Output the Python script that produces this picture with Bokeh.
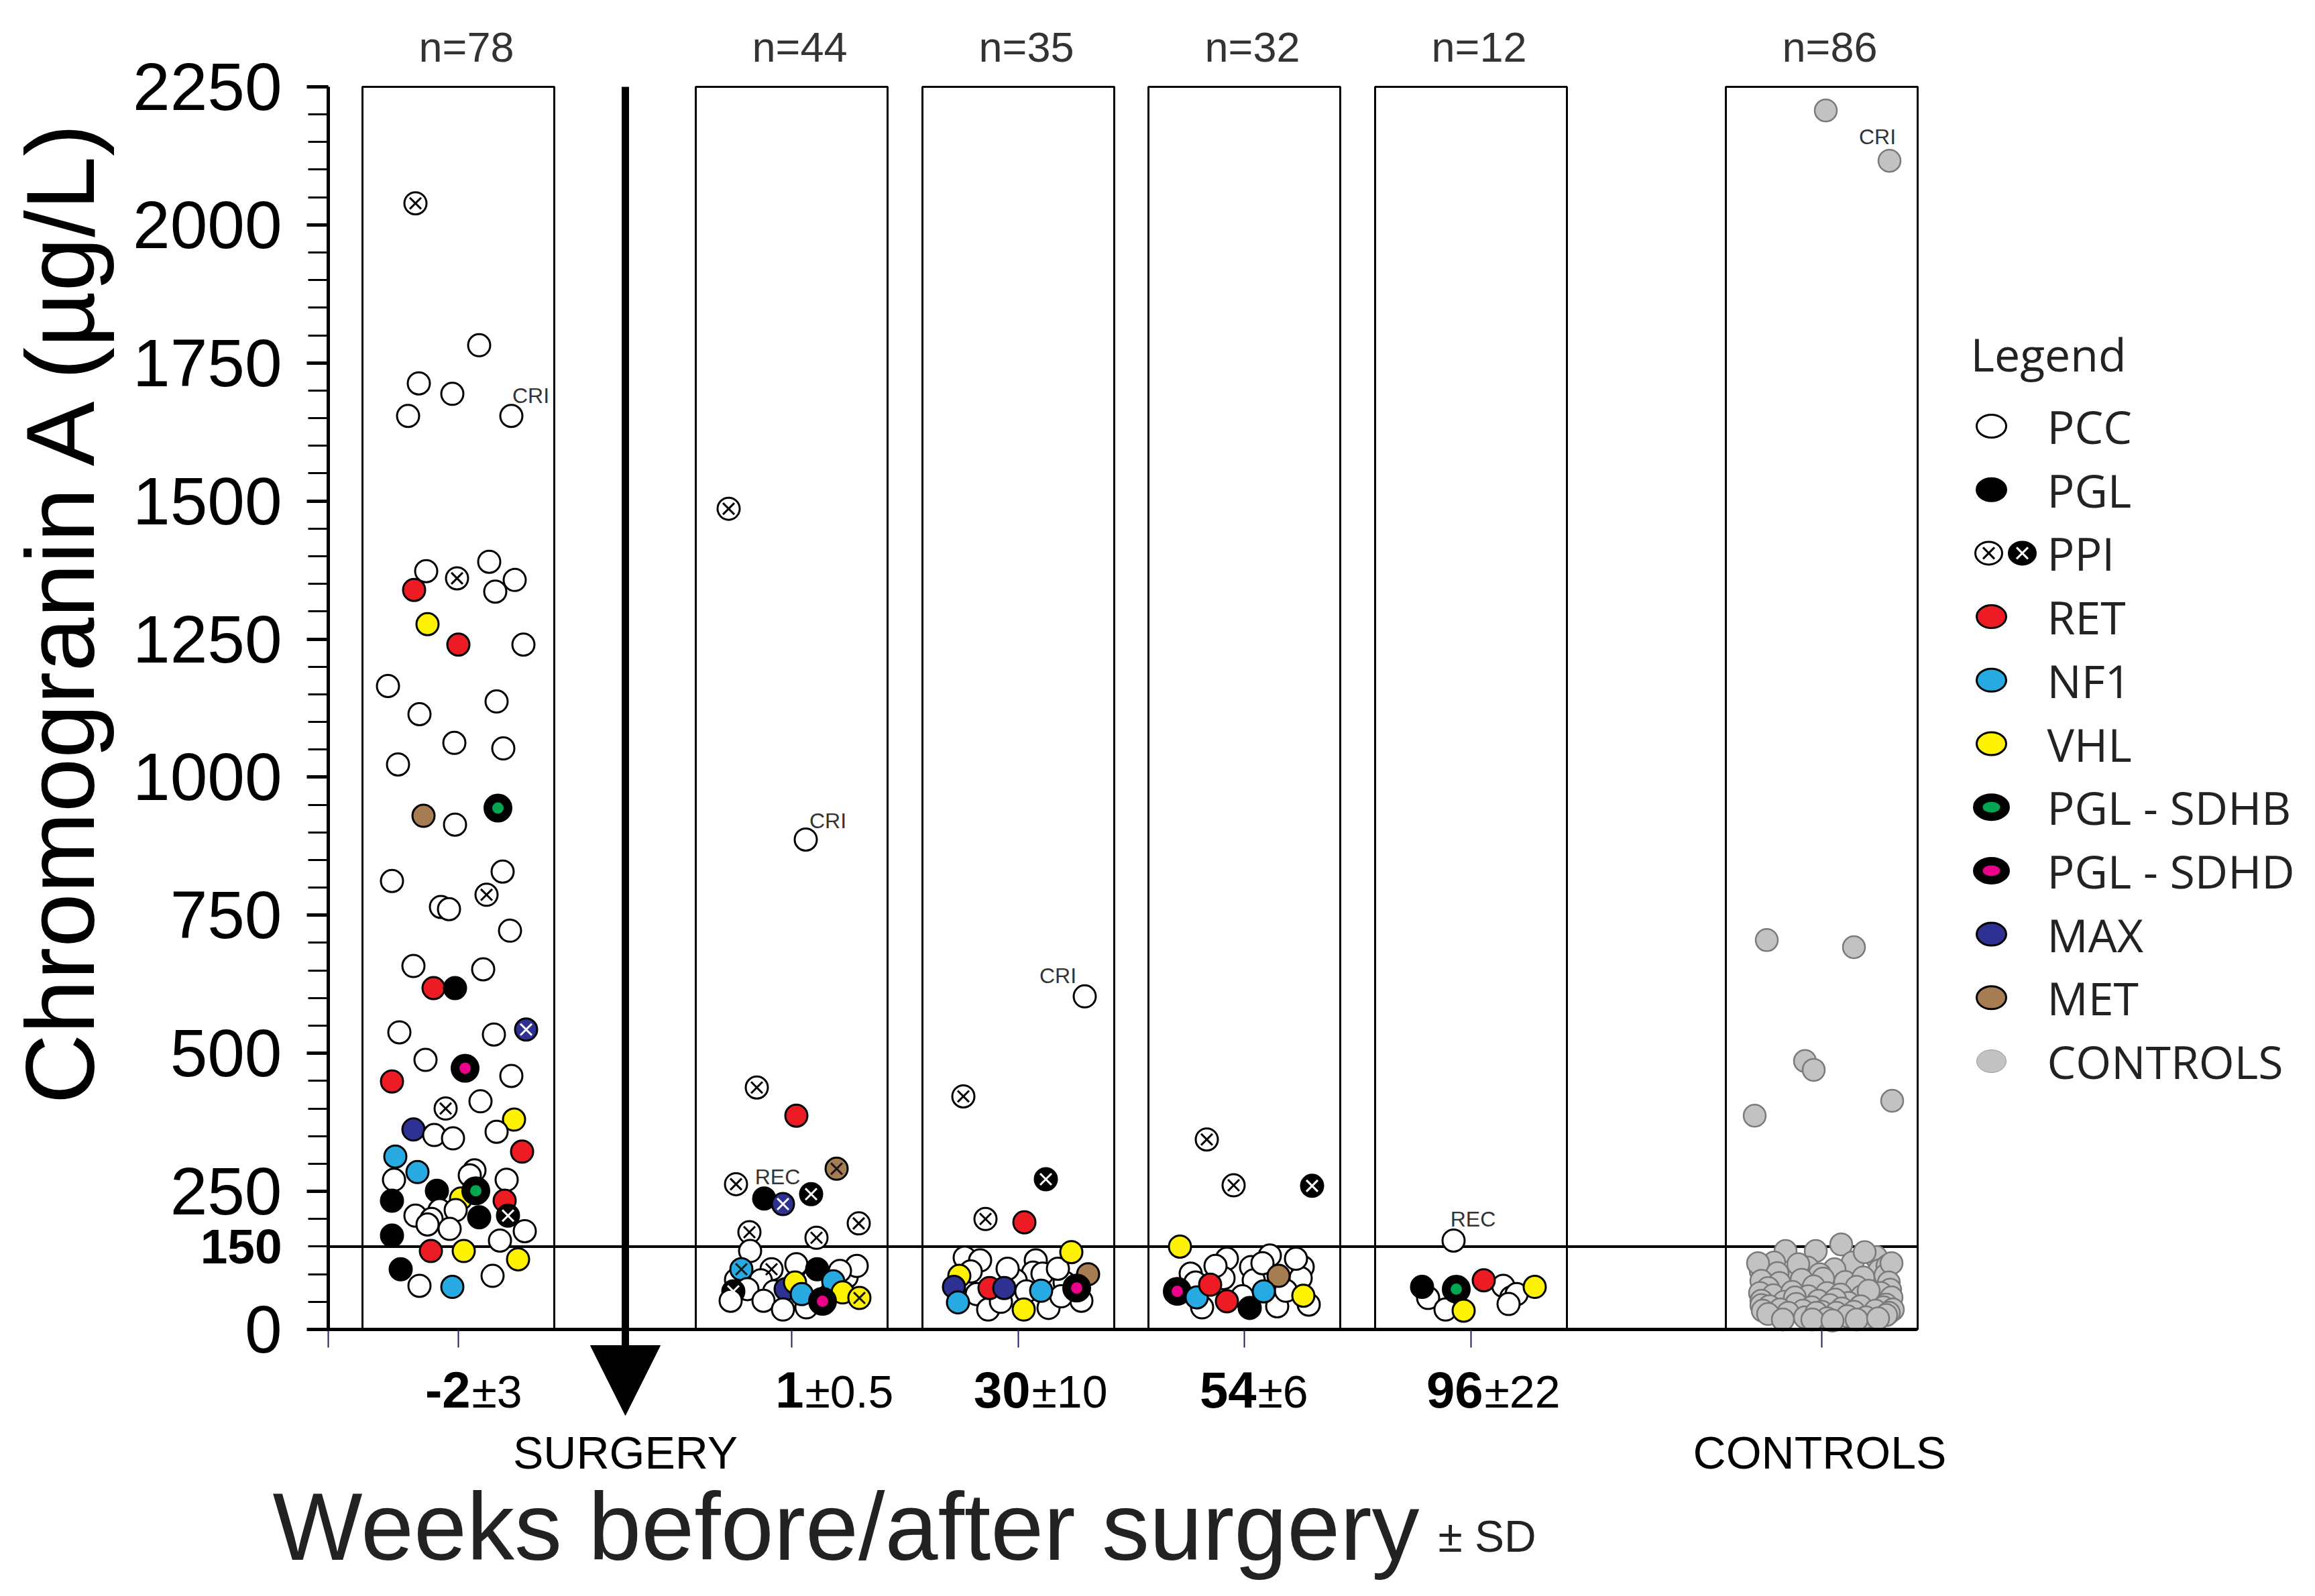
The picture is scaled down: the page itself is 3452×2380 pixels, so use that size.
import math
from bokeh.plotting import figure
from bokeh.models import Range1d, FixedTicker, Arrow, NormalHead, ColumnDataSource
from bokeh.embed import file_html
from bokeh.resources import INLINE
from bokeh.core.properties import value

# ---------------- data ----------------
group_week = ["-2", "1", "30", "54", "96", ""]
group_sd = ["\u00b13", "\u00b10.5", "\u00b110", "\u00b16", "\u00b122", ""]
group_n = ["n=78", "n=44", "n=35", "n=32", "n=12", "n=86"]

g1_type = ["PPI", "PCC", "PCC", "PCC", "PCC", "PCC", "PCC", "PPI", "PCC", "PCC", "PCC", "RET", "VHL", "RET", "PCC", "PCC",
           "PCC", "PCC", "PCC", "PCC", "PCC", "MET", "SDHB", "PCC", "PCC", "PCC", "PPI", "PCC", "PCC", "PCC", "PCC", "PCC", "RET", "PGL",
           "PCC", "PCC", "MAXx", "PCC", "SDHD", "RET", "PCC", "PPI", "PCC", "VHL", "PCC", "MAX", "PCC", "PCC", "RET", "NF1", "NF1", "PCC", "PCC", "PCC",
           "PCC", "PGL", "VHL", "SDHB", "PGL", "RET", "PGL", "PPIB", "PCC", "PCC", "PCC", "PCC", "PCC", "PCC", "PGL", "PCC", "PCC", "RET", "VHL", "VHL",
           "PGL", "PCC", "PCC", "NF1"]
g1_jit = [-64, 31, -59, -9, -75, 79, -48, -2, 46, 84, 55, -66, -46, 0, 97, -105,
          -58, 57, -6, 67, -90, -52, 59, -5, -99, 66, 42, -26, -14, 77, -67, 37, -37, -5,
          -88, 53, 101, -49, 10, -99, 79, -19, 33, 83, 57, -67, -36, -8, 95, -94, -61, -96, 24, 17,
          72, -32, 4, 26, -99, 69, 31, 74, -64, -28, -4, -40, -46, -13, -99, 62, 99, -41, 8, 89,
          -86, 51, -58, -9]
g1_val = [2039, 1782, 1713, 1694, 1654, 1654, 1373, 1360, 1390, 1357, 1336, 1339, 1277, 1240, 1240, 1165,
          1114, 1137, 1062, 1052, 1023, 930, 944, 914, 812, 829, 787, 765, 761, 722, 658, 652, 618, 618,
          538, 534, 543, 488, 473, 449, 459, 400, 413, 380, 358, 362, 352, 346, 322, 313, 285, 271, 288, 279,
          271, 251, 237, 251, 233, 233, 203, 206, 206, 216, 216, 200, 190, 182, 170, 161, 178, 142, 142, 127,
          109, 97, 79, 77]

g2_type = ["PPI", "PCC", "PPI", "RET", "METx", "PPI", "PGL", "MAXx", "PPIB", "PPI", "PPI", "PPI",
           "PCC", "PCC", "PCC", "PCC", "PCC", "PCC", "PCC", "PCC", "PPI", "NF1x", "PCC", "PCC", "PGL", "PCC",
           "PCC", "PPIB", "MAX", "VHL", "NF1", "NF1", "VHL", "VHLx", "PCC", "PCC", "PCC", "SDHD"]
g2_jit = [-94, 21, -52, 7, 67, -83, -41, -13, 29, 100, -63, 37,
          52, -83, 22, 82, -62, 97, 72, 7, -30, -75, -46, 32, 38, -66,
          -26, -87, -9, 5, 62, 15, 76, 101, -91, -42, -13, 46]
g2_val = [1486, 887, 438, 387, 291, 263, 237, 227, 245, 192, 176, 166,
          75, 90, 40, 95, 142, 115, 106, 118, 109, 109, 89, 89, 109, 73,
          69, 69, 73, 85, 87, 64, 67, 57, 52, 52, 36, 51]

g3_type = ["PCC", "PPI", "PPIB", "PPI", "RET",
           "PCC", "PCC", "PCC", "PCC", "PCC", "PCC", "PCC", "PCC", "PCC", "PCC", "PCC", "PCC", "PCC", "PCC", "PCC", "PCC", "PCC",
           "VHL", "VHL", "MAX", "NF1", "RET", "MAX", "NF1", "MET", "SDHD", "VHL"]
g3_jit = [99, -82, 41, -49, 9,
          -80, -57, 26, 22, 36, -4, 12, 69, -62, -45, 45, 94, -26, 64, -16, -71, 59,
          79, -88, -96, -90, -43, -21, 34, 104, 87, 8]
g3_val = [603, 422, 272, 200, 194,
          130, 125, 125, 103, 101, 89, 69, 85, 64, 36, 39, 52, 50, 60, 110, 105, 110,
          140, 97, 77, 49, 75, 75, 70, 100, 75, 36]

g4_type = ["PPI", "PPI", "PPIB", "VHL",
           "PCC", "PCC", "PCC", "PCC", "PCC", "PCC", "PCC", "PCC", "PCC", "PCC", "PCC", "PCC", "PCC", "PCC", "PCC", "PCC", "PCC",
           "MET", "SDHD", "NF1", "RET", "RET", "PGL", "NF1", "VHL"]
g4_jit = [-56, -16, 101, -96,
          -26, 38, -80, 10, 87, 84, -31, 14, -63, 49, 96, -73, -3, 62, -43, 27, 77,
          51, -100, -71, -51, -26, 8, 29, 88]
g4_val = [344, 261, 260, 150,
          128, 134, 101, 113, 113, 93, 93, 89, 40, 42, 45, 85, 60, 70, 115, 120, 128,
          97, 69, 58, 81, 51, 39, 69, 61]

g5_type = ["PCC", "PCC", "PCC", "PCC", "PCC", "PCC", "PCC", "PGL", "SDHB", "RET", "VHL", "VHL"]
g5_jit = [-26, -64, -38, 48, 60, 68, 56, -73, -22, 19, -11, 95]
g5_val = [161, 57, 36, 79, 58, 64, 46, 77, 73, 89, 34, 77]

ctrl_jit = [6, 101, -82, 48, -25, -12, -100, 105,
            -54, -9, 29, 81,
            -71, 46, -91, -21, 19, 86, -47,
            -35, 64, -95, 98, -66, 95, -3, 104,
            -90, -63, -30, 2, 35, 62, 100, -80, -12, 52, 102,
            -92, -72, -44, -20, 8, 28, 60, 88, 104, -90, -56, -5, 40, 75, 96, -40, 20, 70,
            -90, -78, -38, -15, 12, 30, 58, 92, 106, -88, -62, -28, 0, 22, 48, 80, 100,
            -80, -50, -25, -8, 8, 38, 66, 96, -58, -14, 16, 52, 84]
ctrl_val = [2207, 2116, 705, 692, 486, 470, 387, 414,
            142, 142, 154, 131,
            121, 121, 106, 112, 109, 107, 95,
            118, 140, 120, 115, 102, 98, 100, 120,
            88, 84, 90, 92, 86, 94, 85, 75, 78, 77, 72,
            66, 62, 68, 60, 66, 63, 60, 66, 58, 52, 50, 52, 48, 50, 45, 58, 54, 70,
            44, 42, 46, 40, 44, 38, 42, 40, 36, 34, 36, 34, 32, 30, 32, 34, 30,
            28, 30, 22, 30, 20, 24, 22, 26, 18, 18, 16, 18, 20]

note_group = [0, 1, 1, 2, 4, 5]
note_text = ["CRI", "CRI", "REC", "CRI", "REC", "CRI"]
note_jit = [108, 54, -21, 59, 3, 83]
note_val = [1691, 921, 276, 641, 200, 2159]

legend_names = ["PCC", "PGL", "PPI", "RET", "NF1", "VHL", "PGL - SDHB", "PGL - SDHD", "MAX", "MET", "CONTROLS"]
legend_types = ["PCC", "PGL", "PPI", "RET", "NF1", "VHL", "SDHB", "SDHD", "MAX", "MET", "CTRL"]

y_ticks = list(range(0, 2251, 250))
y_minor = list(range(0, 2251, 50))
y_ref = 150

# ---------------- styles / layout ----------------
W, H = 3436, 2364
PX = 0.8236                       # screen px per µg/L
def Y(py):                        # page pixel row -> value units
    return (1990 - py) / PX

CENTERS = [691, 1188, 1526, 1863, 2201, 2724]
HALF = 143
AX_X0, AX_X1 = 497, 2866
SURGERY_X = 940
FONT = "Liberation Sans"
LFONT = "Open Sans"

FILL = {"PCC": "white", "PGL": "black", "PPI": "white", "PPIB": "black", "RET": "#ed1c24",
        "NF1": "#27aae1", "NF1x": "#27aae1", "VHL": "#fff200", "VHLx": "#fff200",
        "SDHB": "black", "SDHD": "black", "MAX": "#2e3192", "MAXx": "#2e3192",
        "MET": "#a67c52", "METx": "#a67c52", "CTRL": "#c2c2c2"}
CROSS = {"PPI": "black", "PPIB": "white", "MAXx": "white", "NF1x": "#1a1a1a", "METx": "#1a1a1a", "VHLx": "#1a1a1a"}
CENTER_DOT = {"SDHB": "#00a651", "SDHD": "#ec008c"}

groups_t = [g1_type, g2_type, g3_type, g4_type, g5_type, ["CTRL"] * len(ctrl_val)]
groups_j = [g1_jit, g2_jit, g3_jit, g4_jit, g5_jit, ctrl_jit]
groups_v = [g1_val, g2_val, g3_val, g4_val, g5_val, ctrl_val]

xs, ys, fills, lines, sizes, lws = [], [], [], [], [], []
cx, cy, cc = [], [], []
dx, dy, dc = [], [], []
for gi in range(6):
    for t, j, v in zip(groups_t[gi], groups_j[gi], groups_v[gi]):
        x = CENTERS[gi] + j
        xs.append(x); ys.append(v)
        fills.append(FILL[t])
        lines.append("#7a7a7a" if t == "CTRL" else "black")
        big = t in CENTER_DOT
        sizes.append(40 if big else 33)
        lws.append(2.5 if t == "CTRL" else 3)
        if t in CROSS:
            cx.append(x); cy.append(v); cc.append(CROSS[t])
        if big:
            dx.append(x); dy.append(v); dc.append(CENTER_DOT[t])

p = figure(width=W, height=H, x_range=Range1d(8, 8 + W), y_range=Range1d(Y(8 + H), Y(8)),
           toolbar_location=None, output_backend="svg",
           min_border_left=0, min_border_right=0, min_border_top=0, min_border_bottom=0)
p.outline_line_color = None
p.xgrid.visible = False
p.ygrid.visible = False
p.background_fill_color = "white"

# y axis (real axis, pinned at the left edge of the plot area)
ya = p.yaxis[0]
ya.fixed_location = AX_X0
ya.bounds = (0, 2250)
ya.ticker = FixedTicker(ticks=y_ticks, minor_ticks=y_minor)
ya.axis_line_width = 5
ya.major_tick_line_width = 5
ya.minor_tick_line_width = 3
ya.major_tick_out = 32
ya.major_tick_in = 0
ya.minor_tick_out = 30
ya.minor_tick_in = 0
ya.major_label_text_font = FONT
ya.major_label_text_font_size = "100px"
ya.major_label_text_color = "black"
ya.major_label_standoff = 37

# x axis pinned at y = 0
xa = p.xaxis[0]
xa.fixed_location = 0
xa.bounds = (AX_X0, AX_X1)
xt = [AX_X0] + CENTERS
xa.ticker = FixedTicker(ticks=xt, minor_ticks=[])
xa.major_label_overrides = {t: "" for t in xt}
xa.major_label_text_alpha = 0
xa.axis_line_width = 5
xa.major_tick_line_color = "#1f1f5c"
xa.major_tick_line_width = 2
xa.major_tick_out = 27
xa.major_tick_in = 0
xa.minor_tick_line_color = None

# boxes
p.quad(left=[c - HALF for c in CENTERS], right=[c + HALF for c in CENTERS],
       bottom=0, top=2250, fill_color=None, line_color="black", line_width=3)

# reference line at 150
p.segment(x0=[AX_X0], x1=[AX_X1], y0=[y_ref], y1=[y_ref], line_color="black", line_width=4)

# points
src = ColumnDataSource(dict(x=xs, y=ys, fill=fills, line=lines, size=sizes, lw=lws))
p.scatter("x", "y", source=src, marker="circle", size="size", fill_color="fill",
          line_color="line", line_width="lw")
p.scatter(dx, dy, marker="circle", size=17, fill_color=dc, line_color=None)
p.scatter(cx, cy, marker="x", size=24, line_color=cc, line_width=3)

# notes
p.text(x=[CENTERS[g] + j for g, j in zip(note_group, note_jit)], y=note_val, text=note_text,
       text_font=value(FONT), text_font_size="32px", text_color="#333333",
       text_align="center", text_baseline="middle")

# surgery arrow
p.add_layout(Arrow(end=NormalHead(size=104, fill_color="black", line_color="black", line_width=1),
                   x_start=SURGERY_X, y_start=2250, x_end=SURGERY_X, y_end=Y(2118),
                   line_color="black", line_width=11))

def txt(x, y, s, size, align="center", baseline="middle", style="normal", color="black",
        font=FONT, angle=0.0):
    p.text(x=[x], y=[y], text=[s], text_font=value(font), text_font_size=size,
           text_font_style=style, text_color=color, text_align=align,
           text_baseline=baseline, angle=angle)

# y title
txt(97, Y(915), "Chromogranin A (\u00b5g/L)", "145px", angle=math.pi / 2)
# bold 150
txt(428, y_ref, str(y_ref), "73px", align="right", style="bold")
# n labels
for c, n in zip(CENTERS, group_n):
    txt(c + 12, Y(77), n, "63px", baseline="alphabetic", color="#333333")
# x tick labels
for c, w, sd in zip(CENTERS[:5], group_week[:5], group_sd[:5]):
    txt(c + 18, Y(2080), w, "76px", align="right", style="bold")
    txt(c + 20, Y(2082), sd, "68px", align="left")
txt(SURGERY_X, Y(2173), "SURGERY", "68px")
txt(2721, Y(2173), "CONTROLS", "68px")
txt(2124, Y(2284), "Weeks before/after surgery", "142px", align="right", color="#222222")
txt(2152, Y(2298), "\u00b1 SD", "66px", align="left", color="#222222")

# ---------------- legend ----------------
LX_MARK, LX_TEXT = 2977, 3060
txt(2946, Y(535), "Legend", "68px", align="left", color="#222222", font=LFONT)
for i, (name, t) in enumerate(zip(legend_names, legend_types)):
    yy = Y(643 + 94.7 * i)
    txt(LX_TEXT, yy, name, "68px", align="left", color="#222222", font=LFONT)
    if t == "PPI":
        for xm, fc, xc in ((LX_MARK - 4, "white", "black"), (LX_MARK + 46, "black", "white")):
            p.ellipse(x=[xm], y=[yy], width=40, height=34, width_units="screen", height_units="screen",
                      fill_color=fc, line_color="black", line_width=3)
            p.scatter(x=[xm], y=[yy], marker="x", size=24, line_color=xc, line_width=3)
    elif t in CENTER_DOT:
        p.ellipse(x=[LX_MARK], y=[yy], width=52, height=38, width_units="screen", height_units="screen",
                  fill_color="black", line_color="black", line_width=3)
        p.ellipse(x=[LX_MARK], y=[yy], width=26, height=16, width_units="screen", height_units="screen",
                  fill_color=CENTER_DOT[t], line_color=None)
    else:
        p.ellipse(x=[LX_MARK], y=[yy], width=44, height=34, width_units="screen", height_units="screen",
                  fill_color=FILL[t], line_color="#9a9a9a" if t == "CTRL" else "black",
                  line_width=1 if t == "CTRL" else 3)

open("out.html", "w").write(file_html(p, INLINE))
